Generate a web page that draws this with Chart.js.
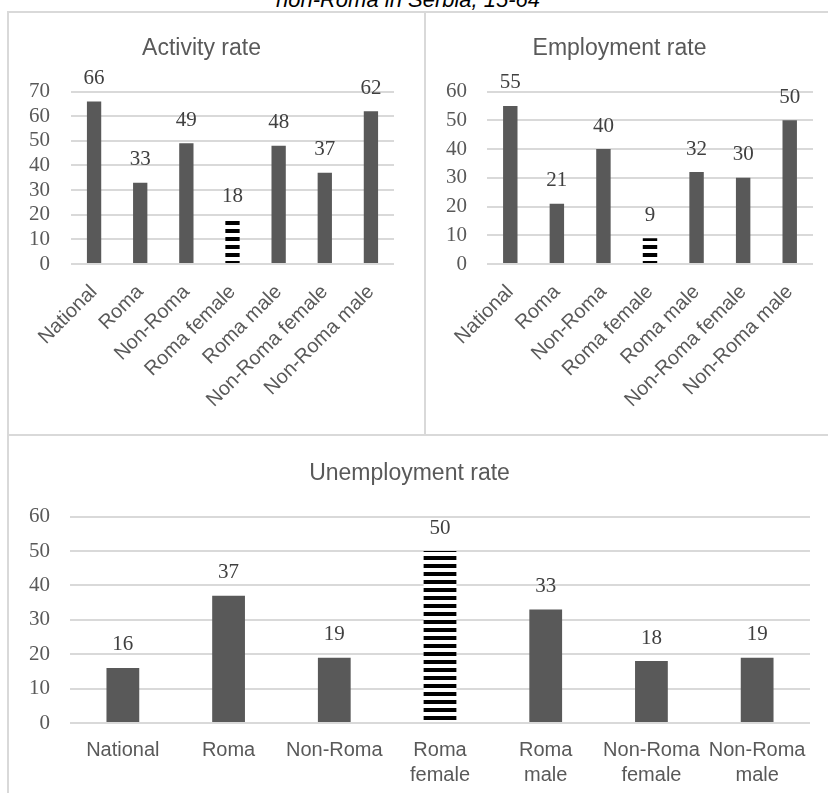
<!DOCTYPE html>
<html>
<head>
<meta charset="utf-8">
<script src="https://cdn.jsdelivr.net/npm/chart.js@4.4.1/dist/chart.umd.min.js"></script>
<style>
  body { margin: 0; background: #fff; width: 828px; height: 793px; overflow: hidden; position: relative; }
  .panel { position: absolute; box-sizing: border-box; border: 2px solid #d9d9d9; }
  canvas { position: absolute; }
  #topTitle { position: absolute; left: 0; width: 816px; top: -11px; text-align: center;
    font: italic 22px "Liberation Sans", Arial, sans-serif; line-height: 22px; color: #000; }
</style>
</head>
<body>
<div id="topTitle">non-Roma in Serbia, 15-64</div>
<div class="panel" style="left:7px;top:11px;width:419px;height:425px"></div>
<div class="panel" style="left:424px;top:11px;width:440px;height:425px"></div>
<div class="panel" style="left:7px;top:434px;width:860px;height:400px"></div>
<canvas id="activity" width="415" height="421" style="left:9px;top:13px"></canvas>
<canvas id="employment" width="415" height="421" style="left:426px;top:13px"></canvas>
<canvas id="unemployment" width="832" height="360" style="left:9px;top:436px"></canvas>
<script>
const categories = ['National', 'Roma', 'Non-Roma', 'Roma female', 'Roma male', 'Non-Roma female', 'Non-Roma male'];
const activityRate = [66, 33, 49, 18, 48, 37, 62];
const employmentRate = [55, 21, 40, 9, 32, 30, 50];
const unemploymentRate = [16, 37, 19, 50, 33, 18, 19];
const highlightCategory = 'Roma female';

Chart.defaults.font.family = '"Liberation Sans", Arial, sans-serif';
Chart.defaults.color = '#595959';

// horizontal black/white stripes for the highlighted bar
function stripes() {
  const c = document.createElement('canvas');
  c.width = 8; c.height = 8;
  const g = c.getContext('2d');
  g.fillStyle = '#fff';
  g.fillRect(0, 0, 8, 8);
  g.fillStyle = '#000';
  g.fillRect(0, 0, 8, 4);
  return g.createPattern(c, 'repeat');
}
const stripePattern = stripes();

const valueLabels = {
  id: 'valueLabels',
  afterDatasetsDraw(chart) {
    const ctx = chart.ctx;
    const ds = chart.data.datasets[0];
    ctx.save();
    ctx.font = '21px "Liberation Serif", "Times New Roman", serif';
    ctx.fillStyle = '#404040';
    ctx.textAlign = 'center';
    ctx.textBaseline = 'middle';
    chart.getDatasetMeta(0).data.forEach((bar, i) => {
      ctx.fillText(ds.data[i], bar.x, bar.y - 23);
    });
    ctx.restore();
  }
};

function makeChart(id, title, values, yMax, opt) {
  return new Chart(document.getElementById(id), {
    type: 'bar',
    data: {
      labels: opt.labels,
      datasets: [{
        data: values,
        backgroundColor: categories.map(c => c === highlightCategory ? stripePattern : '#595959'),
        borderWidth: 0,
        categoryPercentage: 1,
        barPercentage: 0.31
      }]
    },
    options: {
      responsive: false,
      animation: false,
      devicePixelRatio: 1,
      layout: { padding: { left: 0, right: opt.padRight, top: 0, bottom: 0 } },
      plugins: {
        legend: { display: false },
        tooltip: { enabled: false },
        title: {
          display: true,
          text: title,
          color: '#595959',
          font: { size: 23, weight: 'normal' },
          padding: { top: opt.titleTop, bottom: opt.titleBottom }
        }
      },
      scales: {
        x: {
          grid: { display: false },
          border: { display: false },
          ticks: {
            autoSkip: false,
            maxRotation: opt.rotation,
            minRotation: opt.rotation,
            padding: opt.xPad,
            color: '#595959',
            font: { size: opt.xFont, lineHeight: 1.25 }
          },
          afterFit: s => { s.height = opt.xHeight; }
        },
        y: {
          min: 0,
          max: yMax,
          ticks: {
            stepSize: 10,
            autoSkip: false,
            padding: opt.yPad,
            color: '#595959',
            font: { family: '"Liberation Serif", "Times New Roman", serif', size: 21, lineHeight: 1 }
          },
          grid: { color: '#d9d9d9', lineWidth: 2, drawTicks: false },
          border: { display: false },
          afterFit: s => { s.width = opt.yWidth; }
        }
      }
    },
    plugins: [valueLabels]
  });
}

makeChart('activity', 'Activity rate', activityRate, 70, {
  labels: categories, rotation: 45, xPad: 8, xFont: 20, xHeight: 170,
  yWidth: 62, yPad: 21, padRight: 30, titleTop: 22, titleBottom: 29
});
makeChart('employment', 'Employment rate', employmentRate, 60, {
  labels: categories, rotation: 45, xPad: 8, xFont: 20, xHeight: 170,
  yWidth: 61, yPad: 20, padRight: 28, titleTop: 22, titleBottom: 29
});
makeChart('unemployment', 'Unemployment rate', unemploymentRate, 60, {
  labels: categories.map(c => c.split(' ')), rotation: 0, xPad: 7, xFont: 20, xHeight: 73,
  yWidth: 61, yPad: 20, padRight: 31, titleTop: 24, titleBottom: 29
});
</script>
</body>
</html>
